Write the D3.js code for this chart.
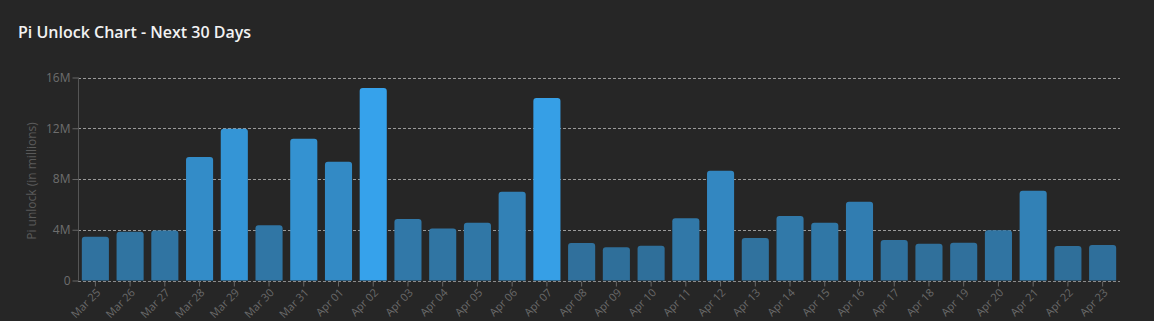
<!DOCTYPE html>
<html><head><meta charset="utf-8">
<script src="https://cdn.jsdelivr.net/npm/d3@7"></script>
<style>
html,body{margin:0;padding:0;background:#262626;}
svg{display:block;}
</style></head>
<body>
<svg id="chart" width="1154" height="321"></svg>
<script>
const categories = ["Mar 25","Mar 26","Mar 27","Mar 28","Mar 29","Mar 30","Mar 31","Apr 01","Apr 02","Apr 03","Apr 04","Apr 05","Apr 06","Apr 07","Apr 08","Apr 09","Apr 10","Apr 11","Apr 12","Apr 13","Apr 14","Apr 15","Apr 16","Apr 17","Apr 18","Apr 19","Apr 20","Apr 21","Apr 22","Apr 23"];
const unlockValues = [3.45,3.84,3.95,9.73,11.96,4.36,11.18,9.36,15.17,4.84,4.1,4.55,7.0,14.38,2.95,2.63,2.74,4.9,8.65,3.34,5.08,4.55,6.2,3.19,2.9,2.97,3.97,7.07,2.71,2.79];
const yTicks = [0,4,8,12,16];
const yTickLabels = ["0","4M","8M","12M","16M"];
const titleText = "Pi Unlock Chart - Next 30 Days";
const yAxisTitle = "Pi unlock (in millions)";

const svg = d3.select("#chart");
const margin = {left:78, right:34, top:77.5, bottom:40.5};
const W = 1154, H = 321;
const x = d3.scaleBand().domain(categories).range([margin.left, W - margin.right]).paddingInner(0.22).paddingOuter(0.11);
const y = d3.scaleLinear().domain([0,16]).range([H - margin.bottom, margin.top]);
const maxV = d3.max(unlockValues);
const alpha = d3.scaleLinear().domain([0, maxV]).range([0.5, 1]);
const base = d3.rgb(54,162,235), bg = d3.rgb(38,38,38);
const color = v => d3.interpolateRgb(bg, base)(alpha(v));

svg.append("text").attr("x",18).attr("y",38)
  .attr("font-family","'Open Sans', 'Noto Sans', sans-serif").attr("font-weight",600).attr("font-size",16)
  .attr("fill","#f2f2f2").text(titleText);

// grid
svg.append("g").selectAll("line").data(yTicks).join("line")
  .attr("x1", margin.left).attr("x2", W - margin.right)
  .attr("y1", d=>Math.round(y(d))+0.5).attr("y2", d=>Math.round(y(d))+0.5)
  .attr("stroke","#9a9a9a").attr("stroke-dasharray","3,2").attr("stroke-width",1);

// bars with rounded tops
const r = 3;
svg.append("g").selectAll("path").data(unlockValues).join("path")
  .attr("d",(d,i)=>{
    const x0 = x(categories[i]), w = x.bandwidth(), y0 = y(d), yb = y(0);
    return `M${x0},${yb}L${x0},${y0+r}Q${x0},${y0} ${x0+r},${y0}L${x0+w-r},${y0}Q${x0+w},${y0} ${x0+w},${y0+r}L${x0+w},${yb}Z`;
  })
  .attr("fill", d=>color(d));

// baseline redraw over bars
svg.append("line").attr("x1",margin.left).attr("x2",W-margin.right)
  .attr("y1",Math.round(y(0))+0.5).attr("y2",Math.round(y(0))+0.5)
  .attr("stroke","#8a8a8a").attr("stroke-dasharray","3,2");

// y axis
const yAxis = d3.axisLeft(y).tickValues(yTicks).tickFormat((d,i)=>yTickLabels[i]).tickSize(6).tickPadding(2);
const gy = svg.append("g").attr("transform",`translate(${margin.left+0.5},0)`).call(yAxis);
gy.select(".domain").attr("stroke","#555").attr("d",`M0,${y(16)}V${y(0)}`);
gy.selectAll(".tick line").attr("stroke","#666");
gy.selectAll(".tick text").attr("fill","#6e6e6e").attr("font-size",12).attr("font-family","'Open Sans', 'Noto Sans', sans-serif");

// x axis
const xAxis = d3.axisBottom(x).tickSize(5).tickPadding(4);
const gx = svg.append("g").attr("transform",`translate(0,${Math.round(y(0))+0.5})`).call(xAxis);
gx.select(".domain").remove();
gx.selectAll(".tick line").attr("stroke","#666");
gx.selectAll(".tick text").attr("fill","#6a6a6a").attr("font-size",11)
  .attr("font-family","'Open Sans', 'Noto Sans', sans-serif")
  .attr("text-anchor","end").attr("x",0).attr("y",0).attr("dy","0.35em")
  .attr("transform","translate(3,9) rotate(-45)");

svg.append("text").attr("transform",`translate(36,${(y(0)+y(16))/2+2}) rotate(-90)`)
  .attr("text-anchor","middle").attr("fill","#5a5a5a").attr("font-size",12)
  .attr("font-family","'Open Sans', 'Noto Sans', sans-serif").text(yAxisTitle);
</script>
</body></html>
